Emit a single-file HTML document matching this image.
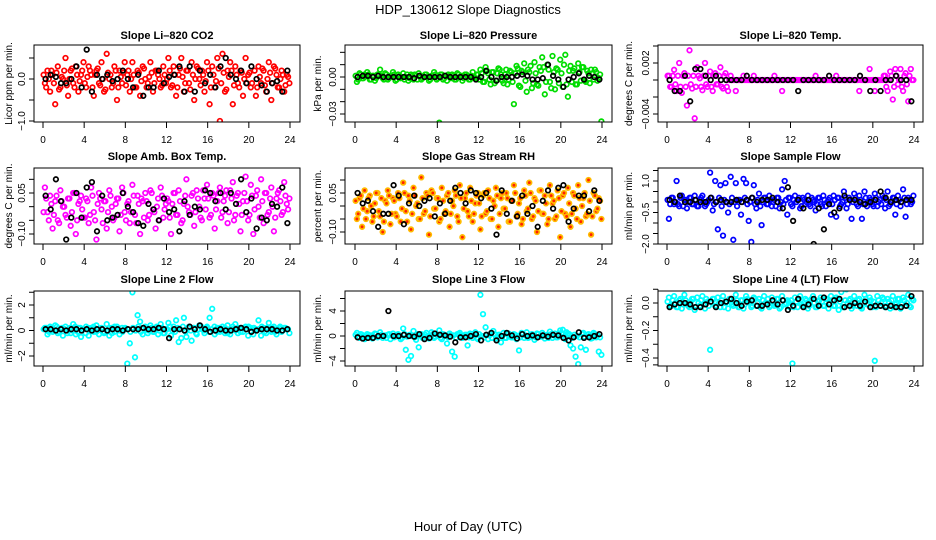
<!DOCTYPE html>
<html><head><meta charset="utf-8"><style>
html,body{margin:0;padding:0;background:#fff;}
svg{display:block;font-family:"Liberation Sans",sans-serif;}
</style></head><body>
<svg id="chart" width="936" height="540" viewBox="0 0 936 540" xmlns="http://www.w3.org/2000/svg">
<rect x="0" y="0" width="936" height="540" fill="#fff"/>
<text x="468" y="14" font-size="13" text-anchor="middle">HDP_130612  Slope Diagnostics</text>
<text x="468" y="531" font-size="13" text-anchor="middle">Hour of Day (UTC)</text>
</svg>
<script>
// ---- data ----
const xTicks = [0,4,8,12,16,20,24];
const co2Color = [-0.1,0.2,-0.3,0.1,-0.6,0.3,-0.2,0.0,0.5,-0.4,0.2,-0.1,0.3,-0.3,0.1,0.4,
-0.2,0.3,0.1,-0.4,0.2,-0.1,0.4,-0.3,0.6,0.0,-0.2,0.3,-0.5,0.2,-0.1,0.4,
0.1,-0.3,0.4,-0.2,0.2,-0.4,0.3,0.0,-0.1,0.4,-0.3,0.2,0.1,-0.2,0.3,-0.1,
0.5,-0.2,0.3,-0.4,0.1,0.5,-0.3,0.2,-0.1,0.4,-0.5,0.3,0.0,0.2,-0.3,0.4,
-0.6,0.3,-0.2,0.5,-1.0,0.6,-0.3,0.2,0.4,-0.6,0.3,-0.1,0.2,-0.4,0.5,0.1,
-0.2,0.9,-0.4,0.3,-0.1,0.2,-0.3,0.4,-0.5,0.3,0.1,-0.2,0.2,-0.3,0.1,-0.1];
const co2Color2 = [0.1,-0.2,0.0,0.2,-0.1,0.15,-0.25,0.05,0.2,-0.15,0.0,0.25,-0.2,0.1,-0.05,0.2,
-0.1,0.05,0.2,-0.2,0.1,0.25,-0.15,0.0,-0.25,0.15,0.1,-0.1,0.2,-0.2,0.05,0.15,
-0.15,0.2,0.0,0.1,-0.2,0.15,-0.05,0.25,-0.2,0.05,0.15,-0.1,0.2,0.0,-0.15,0.1,
0.0,0.2,-0.15,0.1,-0.2,0.25,0.05,-0.1,0.2,-0.25,0.1,0.0,0.25,-0.15,0.1,-0.05,
0.2,-0.2,0.1,-0.05,0.25,-0.1,0.15,-0.25,0.05,0.2,-0.15,0.1,-0.2,0.15,0.0,-0.1,
0.15,-0.1,0.2,-0.2,0.05,0.25,-0.15,0.0,0.15,-0.1,0.25,-0.2,0.0,0.1,-0.15,0.05];
const co2Black = [0,0.1,0.05,-0.1,-0.1,0.0,0.3,-0.2,0.7,-0.3,0.1,0.0,0.1,-0.05,0.0,0.2,0.0,-0.2,0.1,-0.4,-0.2,-0.2,0.2,-0.1,0.05,0.1,0.3,-0.3,0.3,-0.3,0.2,-0.1,0.1,-0.2,0.3,0.5,0.1,0.0,0.2,-0.1,0.3,0.0,-0.15,-0.3,-0.1,-0.05,-0.3,0.2];
const presColor = [-0.004,0.003,-0.001,0.002,0.004,-0.002,0.001,-0.003,0.002,0.006,-0.001,0.003,-0.002,0.001,0.004,-0.003,0.002,-0.001,0.003,0.000,-0.003,0.002,-0.002,0.001,0.003,-0.002,0.000,0.002,-0.003,0.001,0.004,-0.002,-0.037,0.002,-0.001,-0.003,0.001,0.002,-0.002,0.003,0.000,-0.003,0.002,0.001,-0.002,0.004,-0.001,0.002,
0.006,-0.004,0.008,0.003,-0.006,0.004,-0.003,0.007,0.002,-0.005,0.006,-0.002,0.004,-0.022,0.009,-0.007,0.005,0.011,-0.012,0.004,-0.009,0.012,-0.006,0.008,0.016,-0.014,0.010,-0.004,0.017,-0.010,0.006,0.014,-0.008,0.018,-0.016,0.009,0.005,-0.006,0.011,-0.003,0.008,-0.004,0.003,0.006,-0.002,0.004,-0.001,-0.036];
const presColor2 = [0.001,-0.002,0.002,-0.001,0.001,0.002,-0.002,0.001,-0.001,0.002,0.001,-0.002,0.002,-0.001,0.001,0.002,-0.002,0.001,0.000,-0.002,0.002,-0.001,0.001,0.002,-0.002,0.001,-0.001,0.002,0.000,-0.002,0.001,0.002,-0.001,0.002,-0.002,0.001,0.002,-0.001,0.001,-0.002,0.002,0.001,-0.001,0.002,-0.002,0.001,0.000,0.002,
-0.002,0.003,-0.004,0.005,-0.002,0.004,-0.005,0.003,0.006,-0.003,0.002,-0.006,0.005,-0.004,0.003,0.007,-0.008,0.004,-0.003,0.006,0.009,-0.005,0.003,-0.007,0.005,0.008,-0.004,0.006,-0.009,0.004,0.007,-0.005,0.003,0.010,-0.006,0.005,-0.004,0.007,-0.006,0.004,0.008,-0.003,0.005,-0.005,0.003,0.006,-0.003,0.002];
const presBlack = [0,0.001,0.001,0,0.001,0,0,0,0,0,0,-0.001,0.001,0,0,0,0,0.001,0,0,0,0,0,-0.002,0,0.005,0,-0.003,0,0,0,0.001,0.002,0.001,-0.002,-0.002,-0.001,0.010,0.001,-0.002,-0.008,-0.002,0,0.003,-0.002,0.001,0,-0.002];
const tempColor = [0.0005,-0.0008,0.0012,-0.0013,0.002,-0.0015,0.0008,-0.003,0.0035,-0.001,-0.0045,0.0015,0.0002,-0.0012,0.002,-0.0008,0.0010,-0.0013,0.0008,-0.0005,0.0015,-0.0010,0.0008,-0.0013,
0.0005,0,-0.0013,0,0,0.0005,0,0,0,0.0005,0,0,0,0,0,0,0,0.0005,0,0,-0.0013,0,0,0,0,0,0,0,0,0,0,0,0,0.0005,0,0,0,0,0,0,0,0.0005,0,0,0,0,0,0,0,0,-0.0013,0,0,0,0.0013,0,-0.0013,0,0,0,
0.0005,-0.0013,0.001,-0.0023,0.0013,-0.0005,0.0013,-0.0013,0.0008,-0.0025,0.0013,0];
const tempColor2 = [0.0005,-0.0008,0.0005,-0.0005,0.0005,-0.0008,0.0005,-0.0008,0.0005,-0.0005,0.0005,-0.0008,0.0005,-0.0008,0.0005,-0.0005,0.0005,-0.0008,0.0005,-0.0005,0.0005,-0.0008,0.0005,-0.0008,
0,0,0,0,0,0,0,0,0,0,0,0,0,0,0,0,0,0,0,0,0,0,0,0,0,0,0,0,0,0,0,0,0,0,0,0,0,0,0,0,0,0,0,0,0,0,0,0,0,0,0,0,0,0,0,0,0,0,0,0,
0.0005,-0.0008,0,0.0005,-0.0008,0.0005,0,-0.0008,0.0005,-0.0005,0.0005,0];
const tempBlack = [0,-0.0013,-0.0013,0.0005,-0.0025,0.0013,0.0013,0.0005,0,0.0005,0,0,0,0,0,0.0005,0,0,0,0,0,0,0,0,0,-0.0013,0,0,0,0,0,0.0005,0,0,0,0,0,0.0005,0,-0.0013,0,-0.0013,0,0,0.0005,0,0,-0.0025];
const ambColor = [0.07,-0.02,0.04,-0.08,0.02,-0.05,0.06,0.00,-0.03,0.03,-0.07,0.05,-0.10,0.01,0.04,-0.04,
0.03,-0.06,0.07,-0.02,-0.12,0.05,-0.01,0.02,-0.08,0.06,0.00,-0.04,0.03,-0.09,0.07,-0.02,
0.01,-0.06,0.08,-0.03,0.04,-0.10,0.02,0.05,-0.05,0.06,-0.01,-0.08,0.03,0.07,-0.04,0.01,
0.02,-0.10,0.05,-0.03,0.06,-0.06,0.01,0.10,-0.02,0.04,-0.07,0.06,0.00,-0.05,0.03,0.08,
-0.04,0.05,-0.08,0.02,0.07,-0.02,0.04,-0.06,0.06,0.09,-0.03,0.05,-0.09,0.02,0.11,-0.05,
0.08,-0.10,0.04,0.00,0.10,-0.06,0.05,-0.02,0.07,-0.09,0.03,0.06,-0.03,0.09,0.01,0.03];
const ambColor2 = [-0.02,0.03,-0.05,0.01,-0.03,0.04,-0.06,0.02,0.00,-0.04,0.03,-0.02,0.05,-0.05,0.02,-0.01,
-0.04,0.02,-0.03,0.04,-0.05,0.01,0.03,-0.06,0.02,-0.02,0.04,-0.05,0.01,0.03,-0.03,0.05,
-0.05,0.02,-0.02,0.04,-0.06,0.01,0.03,-0.04,0.02,-0.03,0.05,-0.02,0.00,-0.05,0.04,-0.01,
0.03,-0.04,0.01,0.05,-0.03,0.02,-0.05,0.04,0.00,-0.03,0.05,-0.02,0.03,-0.04,0.06,-0.01,
0.03,-0.03,0.04,-0.01,0.05,-0.04,0.02,0.06,-0.02,0.03,-0.05,0.04,0.01,-0.03,0.05,0.02,
-0.03,0.04,-0.01,0.06,-0.04,0.02,0.05,-0.03,0.03,0.00,-0.04,0.05,0.02,-0.02,0.04,-0.01];
const ambBlack = [0.04,-0.01,0.10,0.02,-0.12,-0.04,0.05,-0.04,0.07,0.09,-0.09,0.04,-0.05,-0.04,-0.03,0.05,0.00,-0.02,-0.06,-0.07,0.01,-0.01,-0.05,0.03,-0.02,-0.01,-0.09,0.02,-0.03,0.00,-0.01,0.06,0.05,0.02,0.05,-0.01,0.05,0.01,0.10,-0.02,0.03,-0.08,-0.04,-0.05,0.01,0.00,0.07,-0.06];
const rhColor = [-0.05,0.03,-0.08,0.06,-0.02,0.04,-0.06,0.01,0.05,-0.04,-0.10,0.02,0.06,-0.07,0.03,-0.03,
0.05,-0.06,0.09,-0.02,0.04,-0.09,0.07,0.00,-0.05,0.11,-0.03,0.05,-0.11,0.06,-0.01,0.03,
-0.06,0.07,-0.03,0.04,-0.08,0.02,0.06,-0.04,0.08,-0.12,0.03,-0.02,0.07,-0.06,0.01,0.05,
-0.09,0.04,-0.03,0.06,-0.05,0.02,0.07,-0.08,0.03,-0.01,0.05,-0.06,0.02,0.08,-0.04,0.01,
-0.07,0.06,-0.02,0.09,-0.05,0.03,-0.10,0.06,-0.03,0.04,-0.07,0.08,0.01,-0.05,0.06,-0.12,
0.04,-0.03,0.07,-0.08,0.05,-0.01,0.08,-0.06,0.03,-0.04,0.10,-0.11,0.05,-0.02,0.03,-0.05];
const rhColor2 = [0.02,-0.03,0.04,-0.01,-0.05,0.03,0.00,-0.04,0.05,-0.02,0.03,-0.06,0.01,0.04,-0.03,0.02,
-0.04,0.03,-0.01,0.05,-0.06,0.02,-0.03,0.04,0.01,-0.05,0.03,-0.02,0.04,-0.04,0.05,-0.01,
0.03,-0.05,0.02,-0.02,0.05,-0.03,0.00,0.04,-0.06,0.03,-0.01,0.05,-0.04,0.02,-0.03,0.04,
0.01,-0.04,0.05,-0.02,0.03,-0.05,0.00,0.04,-0.03,0.05,-0.01,0.03,-0.06,0.02,0.05,-0.03,
0.03,-0.05,0.04,-0.01,0.05,-0.04,0.02,-0.02,0.06,-0.03,0.01,-0.05,0.04,0.02,-0.04,0.03,
-0.02,0.05,-0.04,0.01,-0.03,0.04,-0.05,0.03,0.00,0.05,-0.03,0.02,-0.04,0.04,-0.01,0.02];
const rhBlack = [0.05,0.01,0.02,-0.02,-0.08,-0.03,-0.03,0.08,0.04,-0.07,0.01,0.04,0.00,0.02,0.03,-0.04,0.01,-0.03,0.02,0.07,0.05,0.01,0.06,0.05,0.03,0.05,-0.01,-0.11,0.06,-0.03,0.02,-0.04,0.04,-0.03,0.00,-0.08,0.02,0.06,-0.01,0.07,0.08,-0.06,-0.01,0.04,0.04,-0.02,0.06,0.02];
const sampleColor = [-0.8,0.2,-0.1,1.0,-0.2,0.3,0.1,-0.3,0.2,-0.1,0.3,-0.2,0.1,0.3,-0.2,0.0,
1.4,-0.4,1.0,-1.3,0.8,-1.6,0.9,-0.5,1.2,-1.8,0.9,0.1,-0.6,1.1,0.9,-0.9,
-1.9,0.8,-0.3,0.4,-1.1,0.2,-0.1,0.3,-0.2,0.1,0.2,-0.3,0.6,1.0,-0.6,0.2,
-0.2,0.3,0.1,-0.3,0.2,-0.1,0.3,-0.2,0.1,-0.4,0.2,-0.1,0.3,-0.2,0.1,-0.6,
0.3,-0.7,0.2,-0.1,0.5,-0.3,0.2,-0.8,0.4,-0.1,0.3,-0.8,0.5,-0.2,0.2,-0.1,
0.4,-0.2,0.1,0.3,-0.3,0.5,-0.1,0.2,-0.6,0.3,-0.2,0.6,-0.7,0.2,-0.1,0.3];
const sampleColor2 = [0.1,-0.1,0.2,0.0,-0.1,0.2,-0.2,0.1,0.0,0.2,-0.1,0.1,-0.2,0.2,0.0,-0.1,
0.1,0.2,-0.1,0.0,0.2,-0.2,0.1,0.0,-0.1,0.2,0.0,-0.2,0.1,0.0,0.2,-0.1,
0.0,0.2,-0.1,0.1,-0.2,0.0,0.2,-0.1,0.1,0.0,-0.2,0.2,0.0,-0.1,0.1,0.2,
-0.1,0.1,0.0,0.2,-0.2,0.1,0.0,-0.1,0.2,0.0,-0.1,0.2,-0.2,0.1,0.0,0.2,
-0.1,0.1,0.2,-0.2,0.0,0.2,-0.1,0.1,0.0,0.2,-0.2,0.1,-0.1,0.2,0.0,0.1,
-0.2,0.2,0.0,-0.1,0.2,0.1,-0.2,0.0,0.2,-0.1,0.1,0.0,0.2,-0.1,0.1,0.0];
const sampleBlack = [0.1,0,0.3,0,0,0.1,0,0,0.2,0,0.1,0,0,0.1,0,0.1,0.2,0,0.1,0.1,0.2,0,-0.3,0.7,-0.9,0.1,-0.3,0.1,-2.0,-0.3,-1.3,-0.1,-0.5,-0.3,0.3,0.1,0.1,0,-0.1,0,0.1,0.5,0.2,0,0.1,0,0.1,0.1];
const line2Color = [0.2,-0.3,0.3,-0.1,0.4,-0.2,0.1,-0.4,0.3,0.0,-0.2,0.5,-0.3,0.2,-0.5,0.1,0.3,-0.4,0.2,-0.1,0.4,-0.3,0.1,-0.2,0.5,-0.4,0.2,-0.1,0.3,-0.3,0.2,0.1,
-2.6,-1.0,3.0,-2.1,
1.2,0.7,-0.3,0.3,-0.2,0.4,-0.1,0.2,-0.3,0.5,-0.2,0.1,0.6,-0.4,0.3,0.8,-0.9,-0.6,1.0,-0.5,0.3,-0.8,0.2,-0.3,0.4,0.1,-0.2,0.3,1.0,1.7,-0.3,0.2,-0.1,0.3,-0.2,0.4,-0.3,0.1,0.5,-0.2,0.2,-0.1,0.3,-0.4,0.2,-0.3,0.1,0.8,-0.4,0.2,-0.2,0.6,-0.1,0.3,-0.3,0.2,-0.1,0.2,0.1,-0.2];
const line2Color2 = [0.1,0.2,-0.1,0.2,0.0,0.3,-0.1,0.2,0.1,-0.2,0.2,0.0,0.3,-0.1,0.2,0.1,-0.2,0.2,0.0,0.3,-0.1,0.1,0.2,-0.1,0.0,0.2,-0.2,0.3,0.1,0.0,-0.1,0.2,
0.1,-0.1,0.2,0.0,0.3,-0.1,0.2,0.1,0.0,0.2,-0.1,0.3,0.0,0.2,-0.2,0.1,0.3,0.0,-0.1,0.2,0.1,0.3,-0.1,0.2,0.0,0.2,-0.2,0.1,0.3,0.0,
0.2,-0.1,0.1,0.3,-0.1,0.2,0.0,0.2,-0.2,0.1,0.3,0.0,0.2,-0.1,0.2,0.1,0.3,-0.1,0.2,0.0,0.1,0.3,-0.1,0.2,0.0,0.2,-0.1,0.1,0.3,0.0,0.2,0.1];
const line2Black = [0.1,0.1,0,0.1,0,0.1,0.1,0,0.1,0,0.1,0.1,0,0.1,0.1,0,0.1,0.1,0.1,0.2,0.1,0.1,0.2,0.1,-0.6,0.1,0.1,0,0.3,0.1,0.4,0.1,-0.1,0,0.1,0,0,0.1,0.2,0.1,-0.1,0,0.1,0.1,0.1,0,0,0.1];
const line3Color = [0.5,-0.3,0.2,-0.5,0.3,0.0,-0.4,0.4,-0.2,0.6,-0.3,0.1,0.2,-0.5,0.4,-0.1,
0.3,-0.5,1.2,-2.2,-3.8,-3.2,0.8,-0.6,-1.8,0.3,-0.2,0.5,-0.4,0.6,-0.3,0.2,
0.9,-0.5,0.2,-1.2,0.4,-2.5,-3.3,0.3,0.5,-0.3,0.2,-1.5,0.4,-0.3,0.6,-0.5,
6.6,3.5,1.4,-0.5,0.3,0.8,-0.4,0.2,-1.0,0.5,-0.3,0.4,-0.2,0.3,-0.5,-2.3,
0.5,-0.3,0.6,-0.2,0.3,-0.6,0.4,-0.1,0.5,-0.4,0.2,0.7,-0.3,0.4,-0.2,0.9,
1.0,-0.5,0.4,-1.5,-2.0,-3.3,-4.5,-1.8,0.5,-2.2,0.3,-0.4,0.5,-0.2,-2.5,-3.0];
const line3Color2 = [0.2,-0.2,0.3,0.0,-0.3,0.2,0.1,-0.2,0.3,-0.1,0.2,0.0,-0.3,0.3,0.1,-0.2,
0.2,0.0,-0.3,0.3,-0.1,0.2,0.0,-0.2,0.3,0.1,-0.3,0.2,0.0,-0.2,0.3,-0.1,
0.1,-0.3,0.3,0.0,-0.2,0.2,0.1,-0.3,0.3,-0.1,0.0,0.2,-0.2,0.3,0.1,-0.3,
0.3,0.0,-0.2,0.2,0.1,-0.3,0.3,-0.1,0.2,0.0,-0.3,0.3,0.1,-0.2,0.2,0.0,
-0.2,0.3,0.1,-0.3,0.2,0.0,-0.2,0.3,-0.1,0.2,0.0,-0.3,0.3,0.1,-0.2,0.4,
0.5,-0.2,0.6,0.3,-0.3,0.2,0.0,-0.2,0.3,-0.1,0.2,0.0,-0.3,0.3,0.1,-0.2];
const line3Black = [-0.2,-0.4,-0.3,-0.3,0,0,4.0,0,0,0.2,0,-0.1,0.3,-0.5,-0.3,0.4,0.2,0.1,-0.1,-1.0,-0.2,-0.2,0,0.3,-0.7,0.2,0.5,-0.7,0,0.5,0.1,-0.4,0.3,0,0.1,-0.2,0.1,-0.1,0.2,0.1,-0.3,-0.7,-0.2,0.6,-0.3,-0.2,0,0.3];
const line4Color = [0.04,-0.02,0.05,-0.03,0.02,-0.04,0.06,0.00,-0.03,0.03,-0.05,0.04,-0.02,0.05,-0.04,0.01,
-0.34,0.03,-0.02,0.04,-0.03,0.05,0.00,-0.04,0.03,-0.02,0.06,-0.03,0.02,-0.04,0.05,0.01,
-0.03,0.04,-0.02,0.03,-0.04,0.05,0.00,-0.03,0.04,-0.02,0.03,-0.04,0.05,-0.01,0.02,-0.03,
-0.44,0.04,-0.03,0.05,-0.02,0.03,-0.04,0.02,0.05,-0.03,0.01,0.04,-0.02,0.03,-0.04,0.05,
-0.02,0.04,-0.05,0.08,-0.03,0.10,0.02,-0.04,0.05,-0.02,0.03,-0.04,0.06,-0.01,0.04,-0.03,
-0.42,0.05,-0.02,0.04,-0.03,0.03,-0.04,0.05,-0.01,0.03,-0.04,0.04,-0.02,0.06,-0.03,0.02];
const line4Color2 = [0.01,-0.02,0.02,0.00,-0.03,0.03,-0.01,0.02,-0.02,0.01,0.03,-0.03,0.00,0.02,-0.01,0.03,
-0.02,0.01,0.03,-0.02,0.00,0.02,-0.03,0.01,0.03,-0.01,0.00,0.02,-0.03,0.02,-0.01,0.03,
0.00,-0.02,0.03,0.01,-0.03,0.02,0.00,0.03,-0.02,0.01,-0.01,0.03,-0.03,0.02,0.00,0.01,
0.02,-0.03,0.01,0.03,-0.01,0.00,0.02,-0.02,0.03,0.00,-0.03,0.02,0.01,-0.02,0.03,0.00,
0.02,-0.02,0.03,0.01,-0.03,0.02,0.00,0.03,-0.02,0.01,0.02,-0.03,0.00,0.03,-0.01,0.02,
0.01,-0.03,0.02,0.00,0.03,-0.02,0.01,0.02,-0.03,0.00,0.03,-0.01,0.02,0.00,-0.02,0.03];
const line4Black = [-0.03,-0.01,0,0,-0.01,-0.03,-0.03,-0.01,0.01,-0.03,0,0.01,0.03,0,-0.02,0.01,0.02,-0.02,-0.02,-0.01,0.02,-0.01,0.02,-0.05,-0.02,0.03,-0.03,-0.01,0.03,-0.02,0.04,-0.01,0.02,0.03,-0.03,-0.02,0,-0.02,0.01,-0.03,-0.02,-0.02,-0.03,-0.02,-0.03,-0.03,-0.02,0.05];

// ---- layout ----
const cols=[{bx0:34,bx1:300,h0:43,h24:290,ylab:12,tl:25},{bx0:345,bx1:612,h0:355,h24:602,ylab:321,tl:336},{bx0:658,bx1:923,h0:667,h24:914,ylab:632,tl:649}];
const rows=[{by0:45,by1:122,title:39,xl:143},{by0:168,by1:244,title:160,xl:265},{by0:291,by1:366,title:283,xl:387}];
const panels=[
 {name:'co2',title:'Slope Li\u2013820 CO2',ylabel:'Licor ppm per min.',c:0,r:0,color:'#ff0000',col:co2Color,col2:co2Color2,blk:co2Black,v1:0,p1:79,v2:-1,p2:121,ticks:[0.5,0,-0.5,-1],labels:[[0,'0.0'],[-1,'\u22121.0']]},
 {name:'pressure',title:'Slope Li\u2013820 Pressure',ylabel:'kPa per min.',c:1,r:0,color:'#00dd00',col:presColor,col2:presColor2,blk:presBlack,v1:0,p1:77,v2:-0.03,p2:114,ticks:[0.02,0.01,0,-0.01,-0.02,-0.03],labels:[[0,'0.00'],[-0.03,'\u22120.03']]},
 {name:'temp',title:'Slope Li\u2013820 Temp.',ylabel:'degrees C per min.',c:2,r:0,color:'#ff00ff',col:tempColor,col2:tempColor2,blk:tempBlack,v1:0.002,p1:63,v2:-0.004,p2:114,ticks:[0.004,0.002,0,-0.002,-0.004],labels:[[0.002,'0.002'],[-0.004,'\u22120.004']]},
 {name:'amb-box-temp',title:'Slope Amb. Box Temp.',ylabel:'degrees C per min.',c:0,r:1,color:'#ff00ff',col:ambColor,col2:ambColor2,blk:ambBlack,v1:0.05,p1:193,v2:-0.1,p2:234,ticks:[0.1,0.05,0,-0.05,-0.1],labels:[[0.05,'0.05'],[-0.1,'\u22120.10']]},
 {name:'gas-stream-rh',title:'Slope Gas Stream RH',ylabel:'percent per min.',c:1,r:1,color:'#ffbb00',fill:'#ff2200',col:rhColor,col2:rhColor2,blk:rhBlack,v1:0.05,p1:193,v2:-0.1,p2:232,ticks:[0.1,0.05,0,-0.05,-0.1],labels:[[0.05,'0.05'],[-0.1,'\u22120.10']]},
 {name:'sample-flow',title:'Slope Sample Flow',ylabel:'ml/min per min.',c:2,r:1,color:'#0000ff',col:sampleColor,col2:sampleColor2,blk:sampleBlack,v1:1,p1:181,v2:-2,p2:244,ticks:[1.5,1,0.5,0,-0.5,-1,-1.5,-2],labels:[[1,'1.0'],[-0.5,'\u22120.5'],[-2,'\u22122.0']]},
 {name:'line2-flow',title:'Slope Line 2 Flow',ylabel:'ml/min per min.',c:0,r:2,color:'#00ffff',col:line2Color,col2:line2Color2,blk:line2Black,v1:2,p1:305,v2:-2,p2:356,ticks:[3,2,1,0,-1,-2,-3],labels:[[2,'2'],[0,'0'],[-2,'\u22122']]},
 {name:'line3-flow',title:'Slope Line 3 Flow',ylabel:'ml/min per min.',c:1,r:2,color:'#00ffff',col:line3Color,col2:line3Color2,blk:line3Black,v1:4,p1:311,v2:-4,p2:361,ticks:[6,4,2,0,-2,-4],labels:[[4,'4'],[0,'0'],[-4,'\u22124']]},
 {name:'line4-flow',title:'Slope Line 4 (LT) Flow',ylabel:'ml/min per min.',c:2,r:2,color:'#00ffff',col:line4Color,col2:line4Color2,blk:line4Black,v1:0,p1:303,v2:-0.4,p2:358,ticks:[0.1,0,-0.1,-0.2,-0.3,-0.4,-0.45],labels:[[0,'0.0'],[-0.2,'\u22120.2'],[-0.4,'\u22120.4']]}
];
const NS='http://www.w3.org/2000/svg';
const svg=document.getElementById('chart');
function mk(tag,attrs,parent){const e=document.createElementNS(NS,tag);for(const k in attrs)e.setAttribute(k,attrs[k]);(parent||svg).appendChild(e);return e;}
panels.forEach(p=>{
 const C=cols[p.c],R=rows[p.r];
 const g=mk('g',{});
 
 
 const xs=h=>C.h0+(C.h24-C.h0)*h/24;
 const ys=v=>p.p1+(v-p.v1)*(p.p2-p.p1)/(p.v2-p.v1);
 const clip='clip-'+p.name;
 const cp=mk('clipPath',{id:clip},g);
 mk('rect',{x:C.bx0,y:R.by0,width:C.bx1-C.bx0,height:R.by1-R.by0},cp);
 const pts=mk('g',{'clip-path':'url(#'+clip+')'},g);
 
 
 [[p.col,0.5],[p.col2,0.0]].forEach(([arr,off])=>{
  arr.forEach((v,i)=>{
   const h=(i+off+0.25)*24/arr.length;
   const c=mk('circle',{cx:xs(h).toFixed(1),cy:ys(v).toFixed(1),r:2.3,fill:p.fill||'none',stroke:p.color,'stroke-width':1.7},pts);
   
   
  });
 });
 p.blk.forEach((v,i)=>{
  const h=(i+0.5)*24/p.blk.length;
  const c=mk('circle',{cx:xs(h).toFixed(1),cy:ys(v).toFixed(1),r:2.3,fill:'none',stroke:'#000','stroke-width':1.7},pts);
  
  
 });
 const box=mk('rect',{x:C.bx0,y:R.by0,width:C.bx1-C.bx0,height:R.by1-R.by0,fill:'none',stroke:'#000','stroke-width':1},g);
 
 
 const t=mk('text',{x:(C.bx0+C.bx1)/2,y:R.title,'font-size':11,'font-weight':'bold','text-anchor':'middle'},g);
 t.textContent=p.title;
 
 
 xTicks.forEach(h=>{
  mk('line',{x1:xs(h),x2:xs(h),y1:R.by1,y2:R.by1+6,stroke:'#000'},g);
  const l=mk('text',{x:xs(h),y:R.xl,'font-size':10,'text-anchor':'middle'},g);
  l.textContent=h;
  
  
 });
 const yt=p.ticks.map(ys).filter(y=>y>=R.by0-12&&y<=R.by1+1);
 mk('line',{x1:C.bx0,x2:C.bx0,y1:Math.min(...yt),y2:Math.max(...yt),stroke:'#000'},g);
 yt.forEach(y=>mk('line',{x1:C.bx0-5,x2:C.bx0,y1:y,y2:y,stroke:'#000'},g));
 p.labels.forEach(([v,s])=>{
  const y=ys(v);
  const l=mk('text',{x:C.tl,y:y,'font-size':10,'text-anchor':'middle',transform:'rotate(-90 '+C.tl+' '+y+')'},g);
  l.textContent=s;
  
  
 });
 const cy=(R.by0+R.by1)/2;
 const yl=mk('text',{x:C.ylab,y:cy,'font-size':10,'text-anchor':'middle',transform:'rotate(-90 '+C.ylab+' '+cy+')'},g);
 yl.textContent=p.ylabel;
 
 
});
</script>
</body></html>
